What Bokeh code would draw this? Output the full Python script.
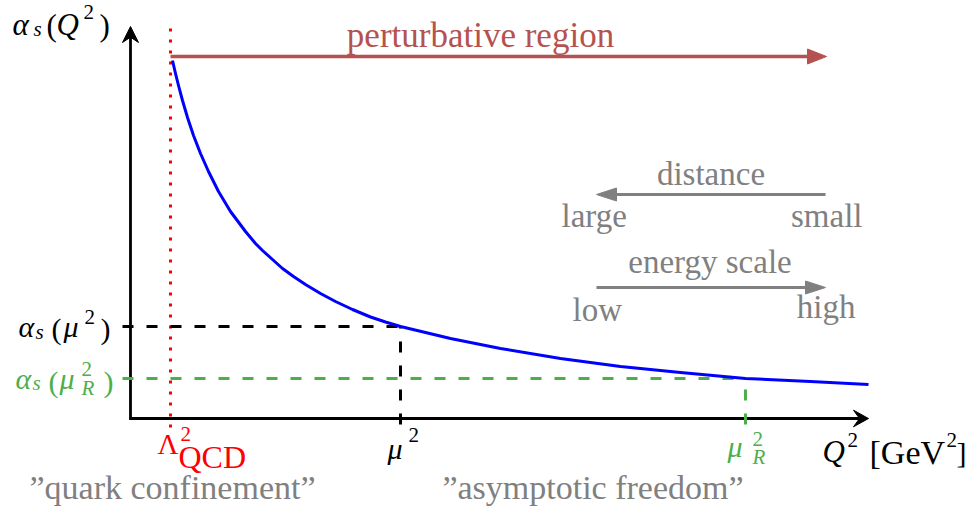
from bokeh.plotting import figure
from bokeh.models import Range1d, Label
from bokeh.embed import file_html
from bokeh.resources import INLINE

# Running coupling alpha_s(Q^2) (schematic units)
q2 = [42, 45, 48, 52, 57, 63, 70, 78, 88, 100, 115, 125, 132, 142, 152, 163, 175,
      190, 205, 222, 240, 255, 270, 320, 370, 430, 490, 550, 615, 680, 738]
alpha_s = [358, 345, 333, 318, 301, 283, 265, 247, 227, 207, 187, 175, 168, 159, 150,
           142, 134, 125, 117, 109, 101.5, 96.5, 92, 80, 70, 60, 52, 46, 40, 37, 34]

# Reference scales on the Q^2 axis and the coupling there
LAMBDA_QCD2 = 40
MU2 = 270
MU_R2 = 615
ALPHA_MU2 = 92
ALPHA_MUR2 = 40

# Axis extents and annotation arrows
X_END = 738
Y_END = 392
PERT_Y = 362
PERT_END = 696
DIST_Y = 224
ENERGY_Y = 131
ARROW_LO = 466
ARROW_HI = 695

FONT = "Liberation Serif"
LIFT = 9  # baseline correction for labels
BLACK = "#000000"
RED = "#ff0000"
GREEN = "#4daf4a"
BLUE = "#0000ff"
GRAY = "#808080"
BROWN = "#b5524f"

p = figure(width=971, height=509, x_range=Range1d(-130, 841), y_range=Range1d(-91, 418),
           output_backend="svg", toolbar_location=None, min_border=0,
           x_axis_location=None, y_axis_location=None)
p.outline_line_color = None
p.grid.grid_line_color = None
p.background_fill_color = "white"
p.border_fill_color = "white"


def head(tx, ty, ux, uy, length, half_w, notch, color):
    bx, by = tx - ux * length, ty - uy * length
    nx, ny = -uy, ux
    mx, my = tx - ux * (length - notch), ty - uy * (length - notch)
    p.patch([tx, bx + nx * half_w, mx, bx - nx * half_w],
            [ty, by + ny * half_w, my, by - ny * half_w],
            fill_color=color, line_color=color, line_width=1)


def put(x, y, txt, size, color, style="normal", align="left"):
    p.add_layout(Label(x=x, y=y + LIFT, text=txt, text_font=FONT, text_font_size=f"{size}px",
                       text_font_style=style, text_color=color, text_align=align,
                       text_baseline="alphabetic"))


# Lambda_QCD^2 marker
p.line([LAMBDA_QCD2, LAMBDA_QCD2], [-9, Y_END + 2], line_color=RED, line_width=3,
       line_dash="3 8")

# Perturbative region arrow
p.line([LAMBDA_QCD2, PERT_END - 17], [PERT_Y, PERT_Y], line_color=BROWN, line_width=3.5)
head(PERT_END, PERT_Y, 1, 0, 19, 7.5, 0, BROWN)

# Axes
p.line([0, 0, X_END - 9], [Y_END - 10, 0, 0], line_color=BLACK, line_width=2.8,
       line_join="miter")
head(0, Y_END, 0, 1, 16, 8, 5.3, BLACK)
head(X_END, 0, 1, 0, 15, 8.3, 6, BLACK)

# Reference scale guides
p.line([-8, MU2], [ALPHA_MU2, ALPHA_MU2], line_color=BLACK, line_width=3, line_dash="11 13")
p.line([MU2, MU2], [-6, ALPHA_MU2], line_color=BLACK, line_width=3, line_dash="11 13")
p.line([-8, MU_R2], [ALPHA_MUR2, ALPHA_MUR2], line_color=GREEN, line_width=3, line_dash="11 13")
p.line([MU_R2, MU_R2], [-6, ALPHA_MUR2], line_color=GREEN, line_width=3, line_dash="11 13")

# Coupling curve
p.line(q2, alpha_s, line_color=BLUE, line_width=3, line_join="round")

# Distance / energy arrows
p.line([ARROW_HI, ARROW_LO + 18], [DIST_Y, DIST_Y], line_color=GRAY, line_width=3.2)
head(ARROW_LO, DIST_Y, -1, 0, 20, 6.5, 0, GRAY)
p.line([ARROW_LO, ARROW_HI - 18], [ENERGY_Y, ENERGY_Y], line_color=GRAY, line_width=3.2)
head(ARROW_HI, ENERGY_Y, 1, 0, 20, 6.5, 0, GRAY)

mid = (ARROW_LO + ARROW_HI) / 2
put(mid, DIST_Y + 12, "distance", 33, GRAY, align="center")
put(ARROW_LO - 35, DIST_Y - 30, "large", 33, GRAY)
put(ARROW_HI + 37, DIST_Y - 30, "small", 33, GRAY, align="right")
put(mid - 1, ENERGY_Y + 17, "energy scale", 33, GRAY, align="center")
put(ARROW_LO - 24, ENERGY_Y - 31, "low", 33, GRAY)
put(ARROW_HI + 30, ENERGY_Y - 28, "high", 33, GRAY, align="right")

put((LAMBDA_QCD2 + PERT_END) / 2 - 18, PERT_Y + 12, "perturbative region", 35, BROWN,
    align="center")

# y-axis title alpha_s(Q^2)
put(-118, Y_END - 7, "α", 31, BLACK, "italic")
put(-97, Y_END - 11, "s", 21, BLACK, "italic")
put(-84, Y_END - 8, "(", 31, BLACK)
put(-74, Y_END - 7, "Q", 31, BLACK, "italic")
put(-47, Y_END + 6, "2", 21, BLACK)
put(-31, Y_END - 8, ")", 31, BLACK)

# alpha_s(mu^2)
put(-112, ALPHA_MU2 - 9, "α", 30, BLACK, "italic")
put(-95, ALPHA_MU2 - 14, "s", 21, BLACK, "italic")
put(-79, ALPHA_MU2 - 11, "(", 30, BLACK)
put(-67, ALPHA_MU2 - 9, "μ", 30, BLACK, "italic")
put(-46, ALPHA_MU2 + 1, "2", 21, BLACK)
put(-30, ALPHA_MU2 - 11, ")", 30, BLACK)

# alpha_s(mu_R^2)
put(-115, ALPHA_MUR2 - 9, "α", 30, GREEN, "italic")
put(-98, ALPHA_MUR2 - 13, "s", 21, GREEN, "italic")
put(-82, ALPHA_MUR2 - 12, "(", 30, GREEN)
put(-71, ALPHA_MUR2 - 9, "μ", 30, GREEN, "italic")
put(-49, ALPHA_MUR2 + 1, "2", 21, GREEN)
put(-49, ALPHA_MUR2 - 18, "R", 21, GREEN, "italic")
put(-27, ALPHA_MUR2 - 12, ")", 30, GREEN)

# Lambda_QCD^2
put(LAMBDA_QCD2 - 13, -34, "Λ", 29, RED)
put(LAMBDA_QCD2 + 10, -24, "2", 21, RED)
put(LAMBDA_QCD2 + 8, -47, "QCD", 32, RED)

# mu^2
put(MU2 - 13, -39, "μ", 30, BLACK, "italic")
put(MU2 + 8, -25, "2", 21, BLACK)

# mu_R^2
put(MU_R2 - 18, -37, "μ", 30, GREEN, "italic")
put(MU_R2 + 7, -29, "2", 21, GREEN)
put(MU_R2 + 7, -47, "R", 21, GREEN, "italic")

# x-axis title Q^2 [GeV^2]
put(X_END - 46, -42, "Q", 31, BLACK, "italic")
put(X_END - 21, -30, "2", 21, BLACK)
put(X_END + 1, -43, "[GeV", 34, BLACK)
put(X_END + 78, -30, "2", 21, BLACK)
put(X_END + 88, -43, "]", 30, BLACK)

# Regimes
put(LAMBDA_QCD2 + 2, -78, "”quark confinement”", 34, GRAY, align="center")
put((MU2 + MU_R2) / 2 + 20, -78, "”asymptotic freedom”", 34, GRAY, align="center")

open("out.html", "w").write(file_html(p, INLINE))
